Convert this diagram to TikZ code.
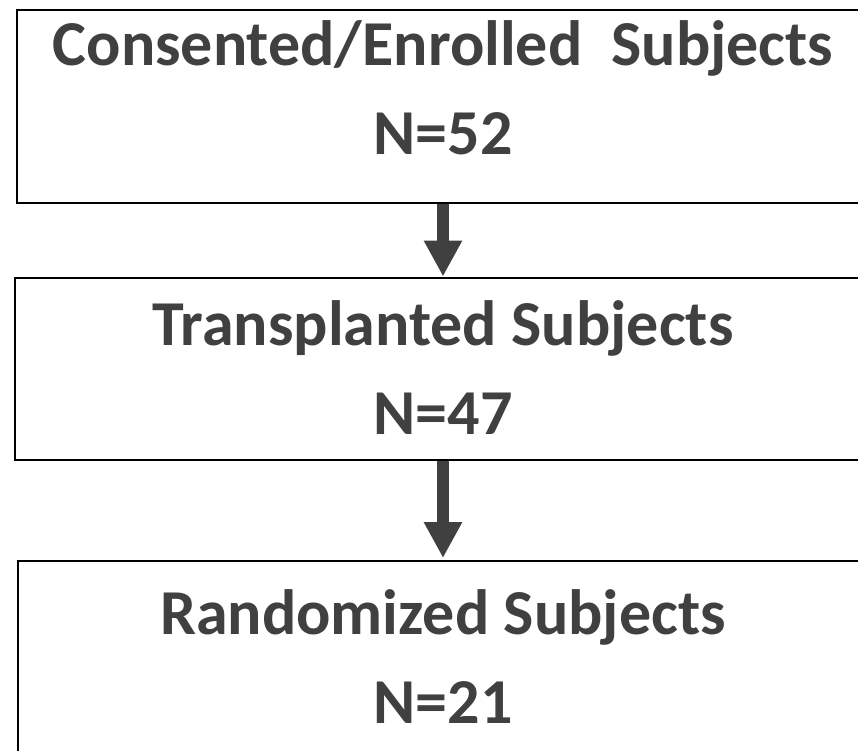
\documentclass[tikz,border=0pt]{standalone}
\usepackage{fontspec}
\setmainfont{Carlito}
\usetikzlibrary{arrows.meta}
\definecolor{txtgray}{HTML}{404040}

\begin{document}
\begin{tikzpicture}[x=1pt, y=-1pt,
                    box/.style={rectangle, draw, line width=2pt, minimum width=856pt, anchor=north west, inner sep=0pt},
                    lbl/.style={anchor=base, text=txtgray, inner sep=0pt, font=\fontsize{64}{64}\selectfont\bfseries},
                    flow/.style={-{Triangle[length=36pt, width=36pt]}, line width=12pt, draw=txtgray}]
  \clip (0,0) rectangle (858,751);
  \node[box, minimum height=193pt] (consent) at (15.5,9) {};
  \node[lbl] (consentA) at (443,66) {Consented/Enrolled\ \ Subjects};
  \node[lbl] (consentN) at (443,155) {N=52};
  \node[box, minimum height=182.5pt] (trans) at (14,276.5) {};
  \node[lbl] (transA) at (443,345) {Transplanted Subjects};
  \node[lbl] (transN) at (443,434) {N=47};
  \node[box, minimum height=220pt] (rand) at (16.5,560) {};
  \node[lbl] (randA) at (443,634) {Randomized Subjects};
  \node[lbl] (randN) at (443,723) {N=21};
  \draw[flow] (consentN |- consent.south) -- (consentN |- trans.north);
  \draw[flow, shorten >=2pt] (transN |- trans.south) -- (transN |- rand.north);
\end{tikzpicture}
\end{document}
